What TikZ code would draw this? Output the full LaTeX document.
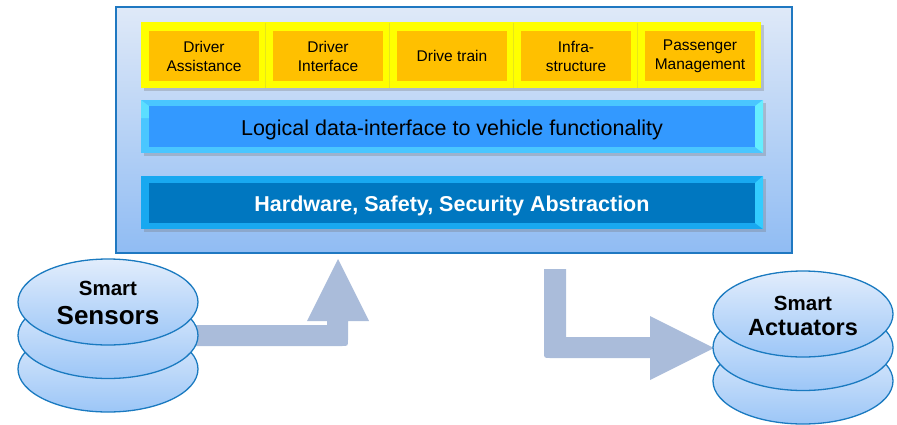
\documentclass[tikz,border=0pt]{standalone}
\usepackage{fontspec}
\setmainfont{Liberation Sans}
\usetikzlibrary{shadows,shapes.geometric}

\definecolor{frameblue}{HTML}{1F78C1}
\definecolor{paneltop}{HTML}{DFE9F8}
\definecolor{panelbot}{HTML}{90BCF3}
\definecolor{celly}{HTML}{FFFF00}
\definecolor{cellsep}{HTML}{E6E61A}
\definecolor{cello}{HTML}{FFC000}
\definecolor{logicin}{HTML}{3399FF}
\definecolor{logicedge}{HTML}{4AC6FF}
\definecolor{logicside}{HTML}{66EEFF}
\definecolor{hwin}{HTML}{0077C0}
\definecolor{hwedge}{HTML}{18A8F0}
\definecolor{hwside}{HTML}{33CCFF}
\definecolor{arrowgray}{HTML}{AABCDA}
\definecolor{disktop}{HTML}{E2EDFC}
\definecolor{diskbot}{HTML}{9CC6F7}
\definecolor{diskline}{HTML}{1A7AC0}

\begin{document}
\begin{tikzpicture}[x=1pt,y=-1pt,
  panel/.style={draw=frameblue, line width=1.5pt, top color=paneltop, bottom color=panelbot},
  softshadow/.style={drop shadow={shadow xshift=3pt, shadow yshift=-3pt, fill=black!55, opacity=0.3}},
  cellrow/.style={fill=celly, minimum width=620pt, minimum height=66pt, inner sep=0pt, softshadow},
  cellbox/.style={fill=cello, minimum width=110pt, minimum height=50pt, inner sep=0pt,
    align=center, font=\fontsize{15.5}{19}\selectfont},
  barouter/.style={fill=#1, minimum width=622pt, minimum height=53pt, inner sep=0pt, softshadow},
  barinner/.style={fill=#1, minimum width=606pt, minimum height=41pt, inner sep=0pt},
  disk/.style={ellipse, draw=diskline, line width=1.3pt, top color=disktop, bottom color=diskbot,
    minimum width=180pt, minimum height=86pt, inner sep=0pt},
  blockarrow/.style={fill=arrowgray, draw=none}
]
\useasboundingbox (0,0) rectangle (897,424);

% outer platform panel
\node[panel, minimum width=676pt, minimum height=246pt, inner sep=0pt] (platform) at (454,130) {};

% application domains row
\node[cellrow] (row) at (451,55) {};
\foreach \i/\x in {1/265,2/389,3/513,4/637}{
  \draw[cellsep, line width=0.6pt] (\x,22.5) -- (\x,87.5);
}
\node[cellbox] (c1) at (204,56) {Driver\\Assistance};
\node[cellbox] (c2) at (328,56) {Driver\\Interface};
\node[cellbox] (c3) at (452,56) {Drive train};
\node[cellbox] (c4) at (576,56) {Infra-\\structure};
\node[cellbox] (c5) at (700,56) {Passenger\\Management};

% logical data interface bar
\node[barouter=logicedge] (logicbar) at (452,126.5) {};
\fill[logicside] (755,106) -- (763,100) -- (763,153) -- (755,147) -- cycle;
\fill[logicside!60!logicedge] (141,100) -- (149,106) -- (149,118) -- (141,118) -- cycle;
\node[barinner=logicin] (logicin) at (452,126.5) {};
\node[anchor=base, font=\fontsize{21.5}{24}\selectfont] (logictext) at (452,135)
  {Logical data-interface to vehicle functionality};

% hardware abstraction bar
\node[barouter=hwedge] (hwbar) at (452,202.5) {};
\fill[hwside] (755,183) -- (763,176) -- (763,229) -- (755,223) -- cycle;
\node[barinner=hwin, minimum height=40pt] (hwin) at (452,203) {};
\node[anchor=base, text=white, font=\bfseries\fontsize{21.5}{24}\selectfont] (hwtext) at (452,211)
  {Hardware, Safety, Security Abstraction};

% block arrows: sensors into the platform, platform out to actuators
\coordinate (sensorout) at (190,335.5);
\coordinate (platformin) at (338,259);
\fill[blockarrow] (sensorout |- 0,325) -- (327,325) -- (327,321) -- (307,321) -- (platformin)
  -- (369,321) -- (348,321) -- (348,340) .. controls (348,346) .. (342,346)
  -- (sensorout |- 0,346) -- cycle;

\coordinate (platformout) at (555,269);
\coordinate (actuatorin) at (714,348);
\fill[blockarrow] (544,269) -- (566,269) -- (566,337) -- (650,337) -- (650,316) -- (actuatorin)
  -- (650,380) -- (650,358) -- (550,358) .. controls (544,358) .. (544,352) -- cycle;

% smart sensors stack
\node[disk] (s3) at (108,369) {};
\node[disk] (s2) at (108,335.5) {};
\node[disk] (s1) at (108,302) {};
\node[anchor=base, font=\bfseries\fontsize{20.5}{24}\selectfont] (stext1) at (108,295) {Smart};
\node[anchor=base, font=\bfseries\fontsize{26}{30}\selectfont] (stext2) at (108,324) {Sensors};

% smart actuators stack
\node[disk] (a3) at (803,381) {};
\node[disk] (a2) at (803,347.5) {};
\node[disk] (a1) at (803,314) {};
\node[anchor=base, font=\bfseries\fontsize{20.5}{24}\selectfont] (atext1) at (803,310) {Smart};
\node[anchor=base, font=\bfseries\fontsize{23.5}{28}\selectfont] (atext2) at (803,335) {Actuators};
\end{tikzpicture}
\end{document}
